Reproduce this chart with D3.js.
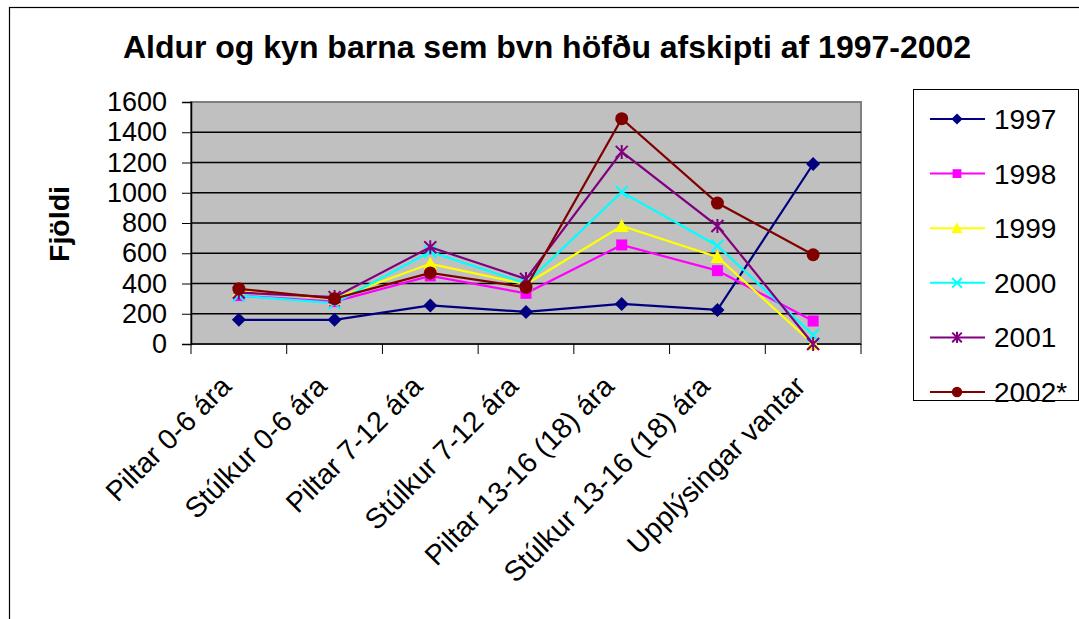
<!DOCTYPE html>
<html>
<head>
<meta charset="utf-8">
<script src="https://cdn.jsdelivr.net/npm/d3@7"></script>
<style>
  body { margin: 0; background: #fff; }
  text { font-family: "Liberation Sans", Arial, sans-serif; fill: #000; }
</style>
</head>
<body>
<svg id="chart"></svg>
<script>
// Categories and values
const categories = ["Piltar 0-6 ára", "Stúlkur 0-6 ára", "Piltar 7-12 ára", "Stúlkur 7-12 ára",
  "Piltar 13-16 (18) ára", "Stúlkur 13-16 (18) ára", "Upplýsingar vantar"];
const years = ["1997", "1998", "1999", "2000", "2001", "2002*"];
const v1997 = [160, 160, 255, 212, 265, 225, 1190];
const v1998 = [320, 280, 450, 335, 655, 485, 152];
const v1999 = [350, 300, 530, 395, 780, 575, 0];
const v2000 = [320, 270, 610, 400, 1005, 650, 60];
const v2001 = [340, 310, 640, 430, 1270, 780, 0];
const v2002 = [365, 300, 470, 375, 1490, 932, 590];
const yTicks = [0, 200, 400, 600, 800, 1000, 1200, 1400, 1600];

const seriesValues = [v1997, v1998, v1999, v2000, v2001, v2002];
const colors = ["#000080", "#ff00ff", "#ffff00", "#00ffff", "#800080", "#800000"];
const markers = ["diamond", "square", "triangle", "x", "star", "circle"];

const width = 1079, height = 619;
const plot = { left: 191, top: 102, right: 861, bottom: 344 };

const svg = d3.select("#chart").attr("width", width).attr("height", height);

// outer chart border (right/bottom edges fall outside the picture)
svg.append("rect")
  .attr("x", 9.5).attr("y", 7.5)
  .attr("width", 1100).attr("height", 700)
  .attr("fill", "#fff").attr("stroke", "#000").attr("stroke-width", 1.2);

const x = d3.scaleBand().domain(categories).range([plot.left, plot.right]);
const y = d3.scaleLinear().domain([0, 1600]).range([plot.bottom, plot.top]);

// plot area
svg.append("rect")
  .attr("x", plot.left).attr("y", plot.top)
  .attr("width", plot.right - plot.left).attr("height", plot.bottom - plot.top)
  .attr("fill", "#c0c0c0").attr("stroke", "#808080").attr("stroke-width", 2);

// gridlines
svg.append("g").selectAll("line")
  .data(yTicks.filter(d => d > 0 && d < 1600))
  .join("line")
  .attr("x1", plot.left).attr("x2", plot.right)
  .attr("y1", d => y(d)).attr("y2", d => y(d))
  .attr("stroke", "#000").attr("stroke-width", 1.5);

// y axis
const yAxis = svg.append("g")
  .attr("transform", `translate(${plot.left},0)`)
  .call(d3.axisLeft(y).tickValues(yTicks).tickSize(9).tickPadding(15).tickFormat(d3.format("d")));
yAxis.select(".domain").attr("stroke", "#000").attr("stroke-width", 1.5);
yAxis.selectAll(".tick line").attr("stroke", "#000");
yAxis.selectAll("text").style("font-size", "27px").attr("font-family", null);

// x axis line and ticks at category boundaries
const xg = svg.append("g");
xg.append("line")
  .attr("x1", plot.left).attr("x2", plot.right)
  .attr("y1", plot.bottom).attr("y2", plot.bottom)
  .attr("stroke", "#000").attr("stroke-width", 1.5);
xg.selectAll(".xt")
  .data(categories.map(c => x(c)).concat([x.range()[1]]))
  .join("line")
  .attr("x1", d => d).attr("x2", d => d)
  .attr("y1", plot.bottom).attr("y2", plot.bottom + 10)
  .attr("stroke", "#000");
xg.selectAll("text")
  .data(categories)
  .join("text")
  .attr("transform", d => `translate(${x(d) + x.bandwidth() / 2 - 6},${plot.bottom + 44}) rotate(-45)`)
  .attr("text-anchor", "end")
  .style("font-size", "28.5px")
  .text(d => d);

// title and axis title
svg.append("text")
  .attr("x", 547).attr("y", 58)
  .attr("text-anchor", "middle")
  .style("font-size", "32px").style("font-weight", "bold")
  .text("Aldur og kyn barna sem bvn höfðu afskipti af 1997-2002");

svg.append("text")
  .attr("transform", "translate(69,224) rotate(-90)")
  .attr("text-anchor", "middle")
  .style("font-size", "28.5px").style("font-weight", "bold")
  .text("Fjöldi");

function drawMarker(g, type, color, s) {
  if (type === "diamond") {
    g.append("path").attr("d", `M0,${-7 * s}L${7 * s},0L0,${7 * s}L${-7 * s},0Z`).attr("fill", color);
  } else if (type === "square") {
    g.append("rect").attr("x", -5.5 * s).attr("y", -5.5 * s).attr("width", 11 * s).attr("height", 11 * s).attr("fill", color);
  } else if (type === "triangle") {
    g.append("path").attr("d", `M0,${-7 * s}L${7 * s},${6 * s}L${-7 * s},${6 * s}Z`).attr("fill", color);
  } else if (type === "x") {
    g.append("path").attr("d", `M${-6 * s},${-6 * s}L${6 * s},${6 * s}M${6 * s},${-6 * s}L${-6 * s},${6 * s}`)
      .attr("stroke", color).attr("stroke-width", 2).attr("fill", "none");
  } else if (type === "star") {
    g.append("path").attr("d", `M${-6 * s},${-6 * s}L${6 * s},${6 * s}M${6 * s},${-6 * s}L${-6 * s},${6 * s}M0,${-7 * s}L0,${7 * s}`)
      .attr("stroke", color).attr("stroke-width", 2).attr("fill", "none");
  } else {
    g.append("circle").attr("r", 6.5 * s).attr("fill", color);
  }
}

// series lines and markers
const line = d3.line().x((d, i) => x(categories[i]) + x.bandwidth() / 2).y(d => y(d));
seriesValues.forEach((vals, si) => {
  const g = svg.append("g");
  g.append("path").datum(vals).attr("d", line)
    .attr("fill", "none").attr("stroke", colors[si]).attr("stroke-width", 2.2);
  vals.forEach((v, i) => {
    const m = g.append("g").attr("transform", `translate(${x(categories[i]) + x.bandwidth() / 2},${y(v)})`);
    drawMarker(m, markers[si], colors[si], 1);
  });
});

// legend
const legend = svg.append("g");
legend.append("rect")
  .attr("x", 913.5).attr("y", 89.5).attr("width", 165).attr("height", 311)
  .attr("fill", "#fff").attr("stroke", "#000").attr("stroke-width", 1);
years.forEach((yr, i) => {
  const ly = 119 + i * 54.6;
  const item = legend.append("g").attr("transform", `translate(0,${ly})`);
  item.append("line").attr("x1", 930).attr("x2", 985).attr("y1", 0).attr("y2", 0)
    .attr("stroke", colors[i]).attr("stroke-width", 2);
  const m = item.append("g").attr("transform", "translate(957,0)");
  drawMarker(m, markers[i], colors[i], 0.8);
  item.append("text").attr("x", 994).attr("y", 10).style("font-size", "28px").text(yr);
});
</script>
</body>
</html>
